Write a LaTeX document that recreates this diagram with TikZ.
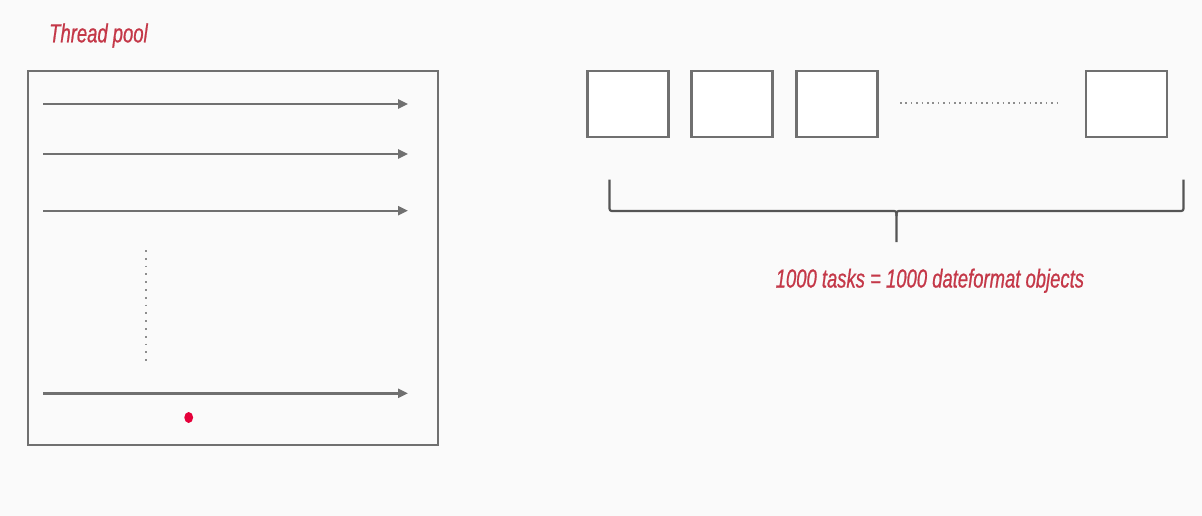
\documentclass[tikz,border=0pt]{standalone}
\usepackage{fontspec}
\newfontfamily\condfont[FakeStretch=0.71,FakeBold=0.7]{Liberation Sans}
\usetikzlibrary{arrows.meta,shapes.geometric}
\definecolor{bgc}{HTML}{FAFAFA}
\definecolor{linec}{HTML}{707070}
\definecolor{bracec}{HTML}{555555}
\definecolor{redtxt}{HTML}{C43848}
\definecolor{reddot}{HTML}{E5003A}
\tikzset{
  framebox/.style={draw=linec, line width=2pt, fill=bgc, inner sep=0pt, minimum width=409.7pt, minimum height=374.3pt},
  taskbox/.style={draw=linec, line width=2.2pt, fill=white, inner sep=0pt, minimum width=81pt, minimum height=66pt},
  thread/.style={draw=linec, line width=2.4pt, -{Triangle[length=10pt,width=9pt]}},
  dotsline/.style={draw=linec!80, line width=2pt, dash pattern=on 1.6pt off 3.8pt},
  vdotsline/.style={draw=linec!80, line width=2pt, dash pattern=on 1.8pt off 6pt},
  bracepath/.style={draw=bracec, line width=2.2pt, line join=round},
  redlabel/.style={text=redtxt, font=\condfont\itshape\fontsize{26pt}{30pt}\selectfont, inner sep=0pt, anchor=base west},
}
\begin{document}
\begin{tikzpicture}[x=1pt,y=-1pt]
\fill[bgc] (0,0) rectangle (1202,516);
\useasboundingbox (0,0) rectangle (1202,516);
% title
\node[redlabel] (title) at (49,42.3) {Thread pool};
% frame
\node[framebox] (pool) at (233.15,257.85) {};
% threads
\coordinate (t1s) at (43.3,104); \coordinate (t1e) at (408,104);
\coordinate (t2s) at (43.3,154); \coordinate (t2e) at (408,154);
\coordinate (t3s) at (43.3,210.7); \coordinate (t3e) at (408,210.7);
\coordinate (t4s) at (43.3,393.3); \coordinate (t4e) at (408,393.3);
\draw[thread] (t1s) -- (t1e);
\draw[thread] (t2s) -- (t2e);
\draw[thread] (t3s) -- (t3e);
\draw[thread] (t4s) -- (t4e);
% vertical dots
\coordinate (vd1) at (145.7,250); \coordinate (vd2) at (145.7,362);
\draw[vdotsline] (vd1) -- (vd2);
% red dot
\node[fill=reddot, ellipse, inner sep=0pt, minimum width=8.8pt, minimum height=11pt] (rdot) at (188.7,417.5) {};
% task boxes
\node[taskbox] (b1) at (628,104) {};
\node[taskbox] (b2) at (732,104) {};
\node[taskbox] (b3) at (837,104) {};
\node[taskbox] (b4) at (1126.5,104) {};
\coordinate (hd1) at (900,103.5); \coordinate (hd2) at (1060,103.5);
\draw[dotsline] (hd1) -- (hd2);
% brace
\coordinate (brL) at (609.5,179.5);
\coordinate (brR) at (1183.5,179.5);
\coordinate (brM) at (896.5,242);
\draw[bracepath] (brL) -- (609.5,206) .. controls (609.5,211) .. (614.5,211) -- (891.5,211) .. controls (896.5,211) .. (896.5,216) -- (brM);
\draw[bracepath] (brR) -- (1183.5,206) .. controls (1183.5,211) .. (1178.5,211) -- (901.5,211) .. controls (896.5,211) .. (896.5,216);
% label
\node[redlabel] (lbl) at (775.5,287.5) {1000 tasks = 1000 dateformat objects};
\end{tikzpicture}
\end{document}
